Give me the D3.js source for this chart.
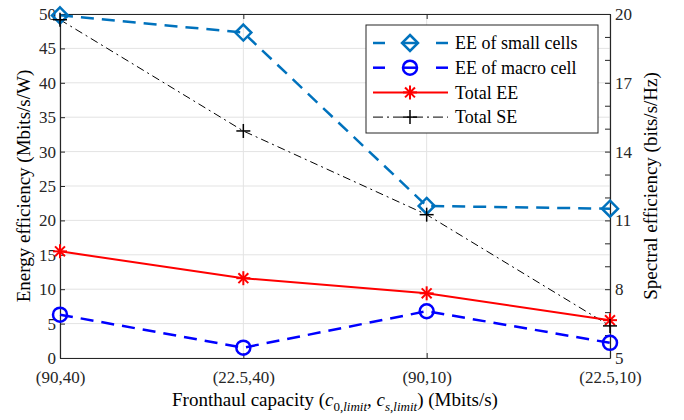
<!DOCTYPE html>
<html>
<head>
<meta charset="utf-8">
<script src="https://cdn.jsdelivr.net/npm/d3@7"></script>
<style>
  body { margin: 0; background: #fff; }
  svg text { font-family: "Liberation Serif", "Times New Roman", "Liberation Sans", sans-serif !important; }
</style>
</head>
<body>
<svg id="chart" width="684" height="420"></svg>
<script>
var categories = ["(90,40)", "(22.5,40)", "(90,10)", "(22.5,10)"];
var eeSmall = [49.8, 47.3, 22.1, 21.7];
var eeMacro = [6.3, 1.5, 6.8, 2.2];
var eeTotal = [15.5, 11.6, 9.4, 5.5];
var seTotal = [19.75, 14.9, 11.25, 6.4];
var leftTicks = [0, 5, 10, 15, 20, 25, 30, 35, 40, 45, 50];
var rightTicks = [5, 8, 11, 14, 17, 20];

var svg = d3.select("#chart"),
  width = +svg.attr("width"),
  height = +svg.attr("height");

var m = {left: 60, right: 74, top: 14, bottom: 62};
var x0 = m.left, x1 = width - m.right, y0 = height - m.bottom, y1 = m.top;

var x = d3.scalePoint().domain(categories).range([x0, x1]);
var yL = d3.scaleLinear().domain([0, 50]).range([y0, y1]);
var yR = d3.scaleLinear().domain([5, 20]).range([y0, y1]);

// grid
var grid = svg.append("g").attr("stroke", "#e3e3e3").attr("stroke-width", 1);
leftTicks.forEach(t => {
  grid.append("line").attr("x1", x0).attr("x2", x1).attr("y1", yL(t)).attr("y2", yL(t));
});
categories.forEach(c => {
  grid.append("line").attr("x1", x(c)).attr("x2", x(c)).attr("y1", y0).attr("y2", y1);
});

// axes, ticks pointing inward
var axL = svg.append("g").attr("transform", "translate(" + x0 + ",0)")
  .call(d3.axisLeft(yL).tickValues(leftTicks).tickSizeInner(-5).tickSizeOuter(0).tickPadding(4));
var axR = svg.append("g").attr("transform", "translate(" + x1 + ",0)")
  .call(d3.axisRight(yR).tickValues(d3.range(5, 21)).tickSizeInner(-5).tickSizeOuter(0).tickPadding(5)
    .tickFormat(d => rightTicks.indexOf(d) >= 0 ? d : ""));
var axB = svg.append("g").attr("transform", "translate(0," + y0 + ")")
  .call(d3.axisBottom(x).tickSizeInner(-5).tickSizeOuter(0).tickPadding(13));
var axT = svg.append("g").attr("transform", "translate(0," + y1 + ")")
  .call(d3.axisTop(x).tickSizeInner(-5).tickSizeOuter(0).tickFormat(""));

[axL, axR, axB, axT].forEach(a => {
  a.attr("font-family", null);
  a.selectAll("path").attr("stroke", "#262626").attr("stroke-width", 1.2);
  a.selectAll("line").attr("stroke", "#262626");
  a.selectAll("text").attr("fill", "#262626").style("font-size", "17px");
});

// series
function drawLine(vals, scale, color, w, dash) {
  var line = d3.line().x((d, i) => x(categories[i])).y(d => scale(d));
  svg.append("path").datum(vals).attr("d", line)
    .attr("fill", "none").attr("stroke", color).attr("stroke-width", w)
    .attr("stroke-dasharray", dash);
}

function marker(g, kind, cx, cy, color) {
  if (kind == "diamond") {
    g.append("path").attr("d", "M" + cx + "," + (cy - 8) + "L" + (cx + 8) + "," + cy + "L" + cx + "," + (cy + 8) + "L" + (cx - 8) + "," + cy + "Z")
      .attr("fill", "none").attr("stroke", color).attr("stroke-width", 2.5);
  } else if (kind == "circle") {
    g.append("circle").attr("cx", cx).attr("cy", cy).attr("r", 7)
      .attr("fill", "none").attr("stroke", color).attr("stroke-width", 2.5);
  } else if (kind == "star") {
    var r = 7;
    [0, 45, 90, 135].forEach(a => {
      var rad = a * Math.PI / 180;
      g.append("line").attr("x1", cx - r * Math.cos(rad)).attr("y1", cy - r * Math.sin(rad))
        .attr("x2", cx + r * Math.cos(rad)).attr("y2", cy + r * Math.sin(rad))
        .attr("stroke", color).attr("stroke-width", 2);
    });
  } else if (kind == "plus") {
    g.append("line").attr("x1", cx - 7).attr("x2", cx + 7).attr("y1", cy).attr("y2", cy)
      .attr("stroke", color).attr("stroke-width", 1.5);
    g.append("line").attr("x1", cx).attr("x2", cx).attr("y1", cy - 7).attr("y2", cy + 7)
      .attr("stroke", color).attr("stroke-width", 1.5);
  }
}

var series = [
  {name: "EE of small cells", vals: eeSmall, scale: yL, color: "#0072BD", w: 2.5, dash: "13,8", mk: "diamond"},
  {name: "EE of macro cell", vals: eeMacro, scale: yL, color: "#0000FF", w: 2.5, dash: "13,8", mk: "circle"},
  {name: "Total EE", vals: eeTotal, scale: yL, color: "#FF0000", w: 2, dash: null, mk: "star"},
  {name: "Total SE", vals: seTotal, scale: yR, color: "#000000", w: 1, dash: "8,4,2,4", mk: "plus"}
];

series.slice().reverse().forEach(s => {
  drawLine(s.vals, s.scale, s.color, s.w, s.dash);
});
series.forEach(s => {
  var g = svg.append("g");
  s.vals.forEach((v, i) => marker(g, s.mk, x(categories[i]), s.scale(v), s.color));
});

// legend
var lg = svg.append("g");
lg.append("rect").attr("x", 366).attr("y", 25).attr("width", 232).attr("height", 108)
  .attr("fill", "#fff").attr("stroke", "#262626").attr("stroke-width", 1);
series.forEach((s, i) => {
  var ly = 43 + i * 24.7;
  if (s.mk == "plus") {
    lg.append("line").attr("x1", 373).attr("x2", 448).attr("y1", ly).attr("y2", ly)
      .attr("stroke", s.color).attr("stroke-width", s.w).attr("stroke-dasharray", "10,4,2,4");
  } else if (s.dash) {
    [[373, 385], [403, 417], [436, 448]].forEach(p => {
      lg.append("line").attr("x1", p[0]).attr("x2", p[1]).attr("y1", ly).attr("y2", ly)
        .attr("stroke", s.color).attr("stroke-width", s.w);
    });
  } else {
    lg.append("line").attr("x1", 373).attr("x2", 448).attr("y1", ly).attr("y2", ly)
      .attr("stroke", s.color).attr("stroke-width", s.w);
  }
  marker(lg, s.mk, 410, ly, s.color);
  lg.append("text").attr("x", 455).attr("y", ly).attr("dy", "0.35em")
    .style("font-size", "18px").attr("fill", "#000").text(s.name);
});

// axis titles
svg.append("text").attr("transform", "translate(30," + ((y0 + y1) / 2) + ")rotate(-90)")
  .attr("text-anchor", "middle").style("font-size", "19px").text("Energy efficiency (Mbits/s/W)");
svg.append("text").attr("transform", "translate(657," + ((y0 + y1) / 2) + ")rotate(-90)")
  .attr("text-anchor", "middle").style("font-size", "19px").text("Spectral efficiency (bits/s/Hz)");

var xt = svg.append("text").attr("x", (x0 + x1) / 2).attr("y", 406)
  .attr("text-anchor", "middle").style("font-size", "19px");
xt.append("tspan").text("Fronthaul capacity (");
xt.append("tspan").style("font-style", "italic").text("c");
xt.append("tspan").attr("dy", 5).style("font-size", "13px").text("0,");
xt.append("tspan").style("font-size", "13px").style("font-style", "italic").text("limit");
xt.append("tspan").attr("dy", -5).text(", ");
xt.append("tspan").style("font-style", "italic").text("c");
xt.append("tspan").attr("dy", 5).style("font-size", "13px").style("font-style", "italic").text("s");
xt.append("tspan").style("font-size", "13px").text(",");
xt.append("tspan").style("font-size", "13px").style("font-style", "italic").text("limit");
xt.append("tspan").attr("dy", -5).text(") (Mbits/s)");
</script>
</body>
</html>
